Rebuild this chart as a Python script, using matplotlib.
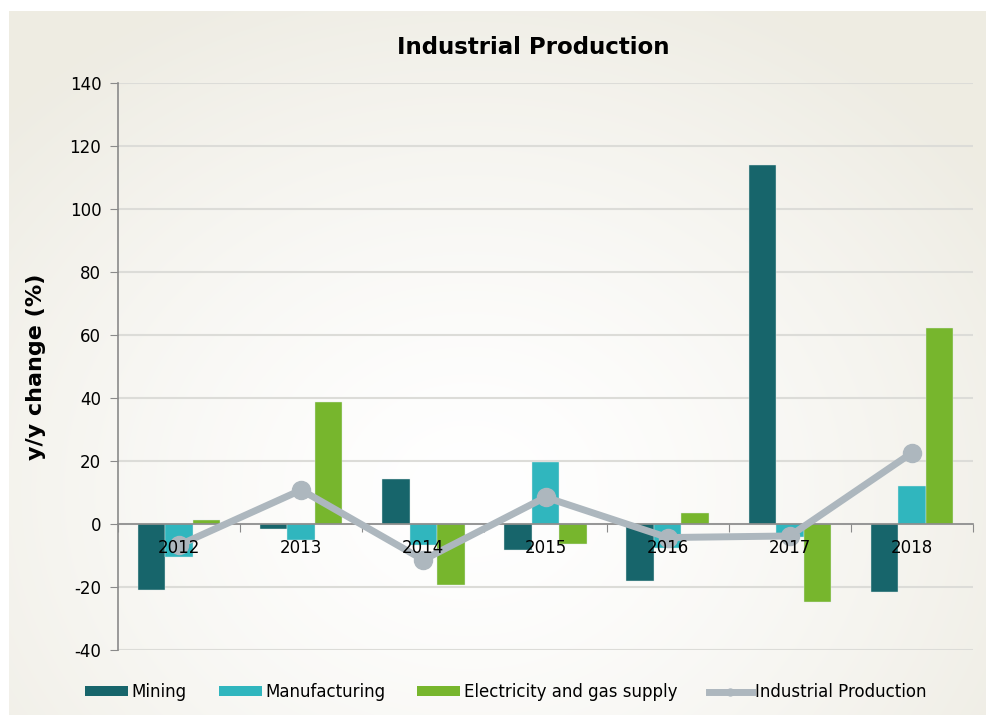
import numpy as np
import matplotlib
matplotlib.use('Agg')
import matplotlib.pyplot as plt
from matplotlib.lines import Line2D
from matplotlib.patches import Patch

years = ['2012', '2013', '2014', '2015', '2016', '2017', '2018']
mining = [-21.0, -1.7, 14.2, -8.3, -18.0, 113.9, -21.5]
manufacturing = [-10.4, -5.1, -6.7, 19.7, -7.5, -4.0, 12.1]
electricity = [1.3, 38.7, -19.5, -6.2, 3.4, -24.7, 62.2]
industrial = [-6.7, 10.8, -11.4, 8.5, -4.3, -3.8, 22.6]

c_mining = '#17656b'
c_manuf = '#30b6be'
c_elec = '#77b62d'
c_ip = '#adb7be'

plt.rcParams['font.family'] = ['DejaVu Sans']
plt.rcParams['axes.unicode_minus'] = False

fig = plt.figure(figsize=(9.87, 7.15), dpi=100, facecolor='white')

# soft radial background behind the whole chart
bg = fig.add_axes([9 / 987, 0, 978 / 987, 704 / 715], zorder=-10)
h, w = 704, 978
yy, xx = np.mgrid[0:h, 0:w]
cx, cy = 460, 480
r = np.sqrt(((xx - cx) / 640.0) ** 2 + ((yy - cy) / 540.0) ** 2)
t = np.clip(r, 0, 1) ** 1.4
edge = np.array([238, 236, 227]) / 255.0
img = (1 - t[..., None]) * np.ones(3) + t[..., None] * edge
bg.imshow(img, aspect='auto', interpolation='bilinear')
bg.set_axis_off()

ax = fig.add_axes([118 / 987, 1 - 650 / 715, (973 - 118) / 987, (650 - 83) / 715])
ax.set_facecolor('none')

x = np.arange(len(years))
bw = 0.225
ax.bar(x - bw, mining, bw, color=c_mining, edgecolor='#dfe8e8', linewidth=0.3, zorder=1)
ax.bar(x, manufacturing, bw, color=c_manuf, edgecolor='#dfe8e8', linewidth=0.3, zorder=1)
ax.bar(x + bw, electricity, bw, color=c_elec, edgecolor='#dfe8e8', linewidth=0.3, zorder=1)
ax.plot(x, industrial, '-o', color=c_ip, lw=5, markersize=13, zorder=3)

ax.set_xlim(-0.5, len(years) - 0.5)
ax.set_ylim(-40, 140)
ax.set_yticks(np.arange(-40, 141, 20))
for v in np.arange(-40, 141, 20):
    ax.axhline(v, color='#dcdcd8', lw=1.5, zorder=0.5)

for s in ['top', 'right']:
    ax.spines[s].set_visible(False)
ax.spines['bottom'].set_position(('data', 0))
ax.spines['bottom'].set_color('#8a8a8a')
ax.spines['left'].set_color('#8a8a8a')
ax.spines['bottom'].set_linewidth(1.2)
ax.spines['left'].set_linewidth(1.2)

ax.set_xticks(np.arange(-0.5, len(years), 1.0))
ax.set_xticklabels([])
ax.tick_params(axis='x', direction='out', length=6, color='#8a8a8a')
ax.tick_params(axis='y', direction='out', length=6, color='#8a8a8a',
               labelsize=12, pad=6)

# year labels sit just under the zero line, on top of the line series
for i, yr in enumerate(years):
    ax.annotate(yr, (i, 0), xytext=(0, -11), textcoords='offset points',
                ha='center', va='top', fontsize=12, zorder=5)

ax.set_ylabel('y/y change (%)', fontsize=16, fontweight='bold', labelpad=17)

fig.text(533 / 987, 1 - 47 / 715, 'Industrial Production', ha='center', va='center',
         fontsize=16.5, fontweight='bold')

handles = [Patch(facecolor=c_mining), Patch(facecolor=c_manuf), Patch(facecolor=c_elec),
           Line2D([0], [0], color=c_ip, lw=5, marker='o', markersize=5)]
labels = ['Mining', 'Manufacturing', 'Electricity and gas supply', 'Industrial Production']
fig.legend(handles, labels, loc='center', bbox_to_anchor=(506 / 987, 1 - 692 / 715),
           ncol=4, frameon=False, fontsize=12, handlelength=2.6, handleheight=0.55,
           handletextpad=0.2, columnspacing=1.9)

fig.savefig('out.png', dpi=100)
